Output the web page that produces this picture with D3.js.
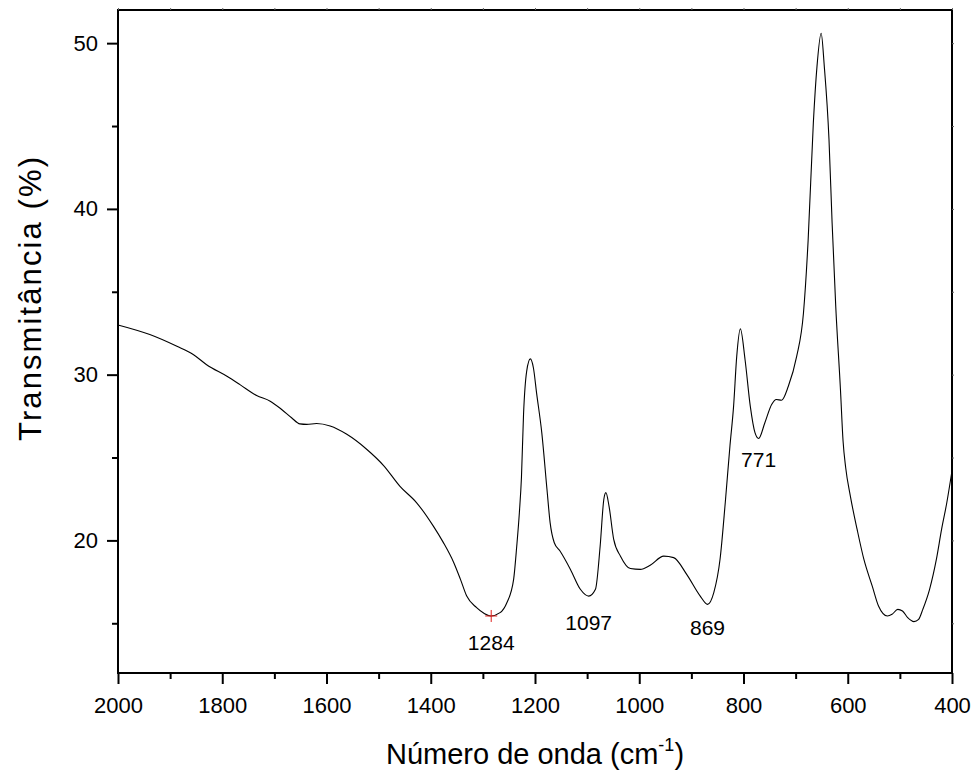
<!DOCTYPE html>
<html>
<head>
<meta charset="utf-8">
<script src="https://cdn.jsdelivr.net/npm/d3@7"></script>
<style>
  html, body { margin: 0; padding: 0; background: #fff; }
  svg { display: block; }
  svg text { font-family: "Liberation Sans", Arial, sans-serif !important; fill: #000; }
</style>
</head>
<body>
<svg id="chart" width="977" height="780"></svg>
<script>
// Wavenumber (cm^-1) and transmittance (%)
const wavenumber = [2000, 1939, 1887, 1855, 1830, 1791, 1766, 1734, 1708, 1686, 1667, 1651, 1638, 1619, 1593, 1561, 1523, 1490, 1459, 1427, 1395, 1376, 1356, 1343, 1331, 1312, 1298, 1285, 1267, 1254, 1241, 1235, 1230, 1226, 1222, 1216, 1209, 1203, 1197, 1187, 1177, 1171, 1163, 1152, 1132, 1113, 1097, 1084, 1075, 1068, 1064, 1058, 1049, 1036, 1017, 998, 979, 953, 934, 909, 883, 869, 857, 845, 835, 826, 819, 813, 806, 797, 787, 778, 771, 759, 746, 737, 727, 714, 698, 685, 676, 666, 659, 651, 645, 636, 630, 623, 614, 609, 604, 595, 582, 569, 553, 541, 524, 515, 504, 495, 485, 473, 464, 456, 443, 430, 420, 410, 400];
const transmittance = [33.0, 32.42, 31.71, 31.2, 30.6, 29.9, 29.4, 28.74, 28.4, 27.9, 27.4, 27.03, 27.0, 27.05, 26.9, 26.4, 25.5, 24.5, 23.26, 22.27, 20.86, 19.88, 18.67, 17.65, 16.64, 15.94, 15.6, 15.44, 15.64, 16.24, 17.65, 19.66, 21.67, 23.8, 27.6, 30.2, 30.95, 30.4, 28.9, 26.5, 23.07, 21.07, 19.86, 19.36, 18.25, 17.05, 16.64, 17.05, 19.66, 22.47, 22.88, 22.07, 20.06, 19.05, 18.3, 18.25, 18.5, 19.05, 18.96, 17.95, 16.64, 16.14, 16.85, 18.86, 22.27, 25.7, 28.1, 31.1, 32.76, 30.9, 28.1, 26.5, 26.15, 27.1, 28.2, 28.5, 28.46, 29.3, 31.1, 33.7, 38.1, 45.2, 48.6, 50.6, 48.6, 44.2, 39.15, 34.1, 29.1, 26.0, 24.4, 22.67, 20.66, 18.85, 17.24, 16.04, 15.44, 15.54, 15.84, 15.74, 15.34, 15.1, 15.24, 15.84, 17.05, 18.85, 20.66, 22.27, 24.2];

// Peak annotations
const peakLabels = ["1284", "1097", "869", "771"];
const peakWavenumber = [1284, 1097, 869, 771];
const peakValue = [15.44, 16.64, 16.14, 26.15];
const peakOffset = [34, 34, 31, 29];

// Axis ticks
const xTicks = [2000, 1800, 1600, 1400, 1200, 1000, 800, 600, 400];
const xMinorTicks = [1900, 1700, 1500, 1300, 1100, 900, 700, 500];
const yTicks = [20, 30, 40, 50];
const yMinorTicks = [15, 25, 35, 45];

const xTitle = "Número de onda (cm";
const yTitle = "Transmitância (%)";

const svg = d3.select("#chart");
const L = 118, R = 952, T = 10, B = 673;
const FONT = "'Liberation Sans', Arial, sans-serif";

const x = d3.scaleLinear().domain([2000, 400]).range([L, R]);
const y = d3.scaleLinear().domain([12, 52]).range([B, T]);

const data = wavenumber.map((w, i) => ({ w, t: transmittance[i] }));

// Frame
svg.append("rect")
  .attr("x", L).attr("y", T).attr("width", R - L).attr("height", B - T)
  .attr("fill", "none").attr("stroke", "#000").attr("stroke-width", 2);

// Bottom axis
const gx = svg.append("g").attr("transform", `translate(0,${B})`);
gx.call(d3.axisBottom(x).tickValues(xTicks).tickSize(11).tickPadding(13).tickFormat(d3.format("d")));
gx.attr("font-family", FONT).attr("font-size", 22);
gx.select(".domain").remove();
gx.selectAll(".tick line").attr("stroke-width", 2);
const gxm = svg.append("g").attr("transform", `translate(0,${B})`);
gxm.call(d3.axisBottom(x).tickValues(xMinorTicks).tickSize(6).tickFormat(""));
gxm.select(".domain").remove();
gxm.selectAll(".tick line").attr("stroke-width", 2);

// Left axis
const gy = svg.append("g").attr("transform", `translate(${L},0)`);
gy.call(d3.axisLeft(y).tickValues(yTicks).tickSize(11).tickPadding(9).tickFormat(d3.format("d")));
gy.attr("font-family", FONT).attr("font-size", 22);
gy.select(".domain").remove();
gy.selectAll(".tick line").attr("stroke-width", 2);
const gym = svg.append("g").attr("transform", `translate(${L},0)`);
gym.call(d3.axisLeft(y).tickValues(yMinorTicks).tickSize(6).tickFormat(""));
gym.select(".domain").remove();
gym.selectAll(".tick line").attr("stroke-width", 2);

// Top / right faint ticks
const gt = svg.append("g").attr("transform", `translate(0,${T})`);
gt.call(d3.axisTop(x).tickValues(xTicks.concat(xMinorTicks)).tickSize(2).tickFormat(""));
gt.select(".domain").remove();
gt.selectAll(".tick line").attr("stroke", "#666");
const gr = svg.append("g").attr("transform", `translate(${R},0)`);
gr.call(d3.axisRight(y).tickValues(yTicks.concat(yMinorTicks)).tickSize(2).tickFormat(""));
gr.select(".domain").remove();
gr.selectAll(".tick line").attr("stroke", "#666");

// Spectrum line
const line = d3.line().x(d => x(d.w)).y(d => y(d.t)).curve(d3.curveMonotoneX);
svg.append("path").datum(data)
  .attr("d", line)
  .attr("fill", "none").attr("stroke", "#000").attr("stroke-width", 1.1);

// Red cross at 1284 minimum
const cx = x(peakWavenumber[0]), cy = y(peakValue[0]);
svg.append("path")
  .attr("d", `M${cx - 6},${cy}H${cx + 6}M${cx},${cy - 6}V${cy + 6}`)
  .attr("stroke", "#e0201c").attr("stroke-width", 1);

// Peak labels
svg.append("g").selectAll("text").data(peakLabels).join("text")
  .attr("x", (d, i) => x(peakWavenumber[i]))
  .attr("y", (d, i) => y(peakValue[i]) + peakOffset[i])
  .attr("text-anchor", "middle")
  .style("font-size", "21px")
  .text(d => d);

// Axis titles
const xt = svg.append("text")
  .attr("x", (L + R) / 2).attr("y", 764)
  .attr("text-anchor", "middle")
  .style("font-size", "29px");
xt.append("tspan").text(xTitle);
xt.append("tspan").attr("dy", -13).style("font-size", "18px").text("-1");
xt.append("tspan").attr("dy", 13).text(")");

svg.append("text")
  .attr("transform", `translate(41,299) rotate(-90)`)
  .attr("text-anchor", "middle")
  .attr("textLength", 284)
  .attr("lengthAdjust", "spacing")
  .style("font-size", "31px")
  .text(yTitle);
</script>
</body>
</html>
